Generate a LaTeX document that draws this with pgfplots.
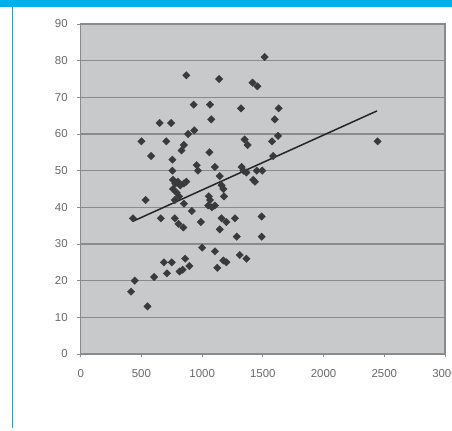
\documentclass[border=0pt]{standalone}
\usepackage{pgfplots}
\pgfplotsset{compat=1.18}
\usepackage{fontspec}
\setmainfont{Liberation Sans}
\definecolor{topblue}{HTML}{00AEEF}
\definecolor{plotbg}{HTML}{C8C9CB}
\definecolor{gridc}{HTML}{8A8B8D}
\definecolor{markc}{HTML}{3A3A3C}
\definecolor{labc}{HTML}{6A6A6A}
\begin{document}
\begin{tikzpicture}
\path[use as bounding box, fill=white] (0,0) rectangle (452bp,431bp);
\fill[topblue] (0,424bp) rectangle (452bp,431bp);
\draw[topblue, line width=1.5bp] (12.5bp,3bp) -- (12.5bp,424bp);
\begin{axis}[
  at={(80.7bp,77bp)}, anchor=south west,
  scale only axis, width=364.3bp, height=330bp,
  xmin=0, xmax=3000, ymin=0, ymax=90,
  xtick={0,500,...,3000}, ytick={0,10,...,90},
  axis background/.style={fill=plotbg},
  axis line style={draw=gridc, line width=1.2bp},
  ymajorgrids, grid style={draw=gridc, line width=1.5bp},
  tick style={draw=gridc, line width=0.8bp},
  tick align=outside, major tick length=3.5bp,
  xtick pos=bottom, ytick pos=left,
  tick label style={font=\fontsize{11.5}{12}\selectfont, text=labc},
  yticklabel style={xshift=-6bp},
  xticklabel style={yshift=-8bp},
  /pgf/number format/assume math mode=true,
  /pgf/number format/1000 sep={},
  clip=false,
]
\addplot[only marks, mark=square*, mark size=2.6bp, mark options={fill=markc, draw=markc, rotate=45}] coordinates {
(870,76) (1140,75) (1515,81) (1415,74) (1455,73)
(930,68) (1065,68) (1320,67) (1630,67) (1075,64) (1598,64)
(650,63) (745,63) (885,60) (935,61) (500,58) (705,58)
(850,57) (830,55.5) (1060,55) (1350,58.5) (1375,57) (1575,58)
(1625,59.5) (2445,58) (580,54) (755,53) (1585,54) (755,50)
(955,51.5) (965,50) (1105,51) (1325,51) (1340,50) (1365,49.5)
(1450,50) (1495,50) (1145,48.5) (1420,47.5) (1435,47) (1160,46)
(760,47.5) (780,46.5) (800,47) (820,46) (850,46.5) (870,47)
(790,44) (760,45) (810,43) (775,42) (850,41) (1175,45) (1180,43)
(1055,43) (1065,42) (535,42) (430,37) (660,37) (775,37)
(805,35.5) (845,34.5) (915,39) (990,36) (1050,40.5) (1080,40)
(1105,40.5) (1160,37) (1200,36) (1270,37) (1145,34) (1490,37.5)
(1285,32) (1490,32) (1000,29) (1105,28) (1175,25.5) (1200,25)
(1125,23.5) (1310,27) (1365,26) (685,25) (750,25) (860,26)
(895,24) (840,23) (815,22.5) (710,22) (605,21) (445,20) (415,17) (550,13)
};
\addplot[draw=black!85, line width=1.5bp] coordinates {(430,36.2) (2440,66.3)};
\draw[gridc, line width=1bp] (rel axis cs:0,1) -- (rel axis cs:1,1) -- (rel axis cs:1,0);
\end{axis}
\end{tikzpicture}
\end{document}
